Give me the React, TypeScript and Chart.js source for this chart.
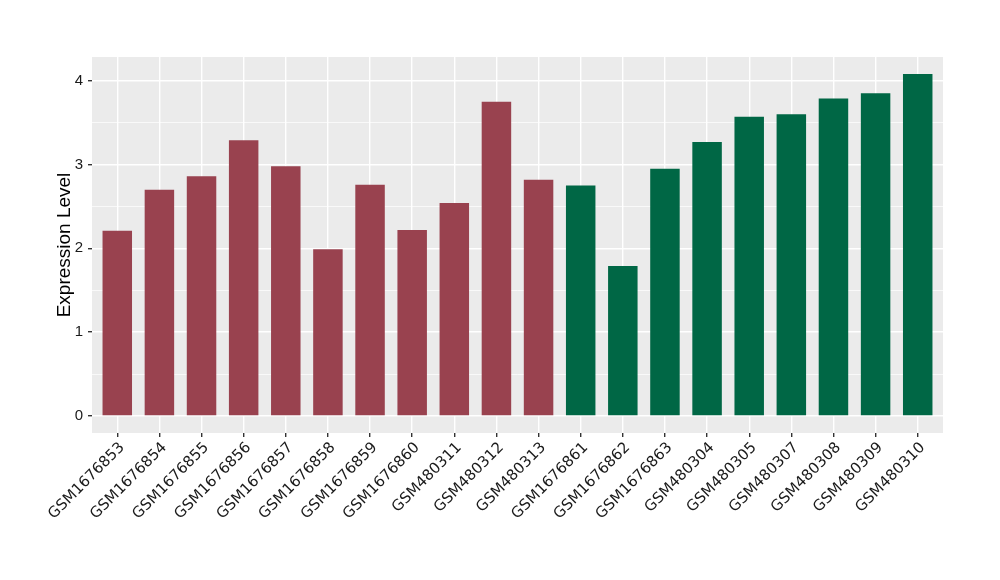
import React, { useEffect, useRef } from "react";
import { Chart, registerables } from "chart.js";

Chart.register(...registerables);

const samples = [
  "GSM1676853", "GSM1676854", "GSM1676855", "GSM1676856", "GSM1676857",
  "GSM1676858", "GSM1676859", "GSM1676860", "GSM480311", "GSM480312",
  "GSM480313", "GSM1676861", "GSM1676862", "GSM1676863", "GSM480304",
  "GSM480305", "GSM480307", "GSM480308", "GSM480309", "GSM480310",
];

const expression = [
  2.21, 2.70, 2.86, 3.29, 2.98, 1.99, 2.76, 2.22, 2.54, 3.75,
  2.82, 2.75, 1.79, 2.95, 3.27, 3.57, 3.60, 3.79, 3.85, 4.08,
];

const groups = [
  "A", "A", "A", "A", "A", "A", "A", "A", "A", "A",
  "A", "B", "B", "B", "B", "B", "B", "B", "B", "B",
];

const groupColors: Record<string, string> = { A: "#99424F", B: "#006745" };

const yMajorTicks = [0, 1, 2, 3, 4];
const yMinorTicks = [0.5, 1.5, 2.5, 3.5];

const panelBg = {
  id: "panelBg",
  beforeDraw(chart: any) {
    const { ctx, chartArea } = chart;
    ctx.save();
    ctx.fillStyle = "#EBEBEB";
    ctx.fillRect(chartArea.left, chartArea.top, chartArea.right - chartArea.left, chartArea.bottom - chartArea.top);
    ctx.restore();
  },
};

export default function App() {
  const ref = useRef<HTMLCanvasElement>(null);
  useEffect(() => {
    const maxV = Math.max(...expression);
    const pad = maxV * 0.05;
    const chart = new Chart(ref.current!, {
      type: "bar",
      data: {
        datasets: [
          {
            data: expression.map((v, i) => ({ x: i, y: v })),
            backgroundColor: groups.map((g) => groupColors[g]),
            barPercentage: 0.7,
            categoryPercentage: 1,
          },
        ],
      },
      options: {
        animation: false,
        responsive: false,
        maintainAspectRatio: false,
        layout: { padding: { left: 0, top: 57, right: 57, bottom: 0 } },
        plugins: { legend: { display: false }, tooltip: { enabled: false } },
        scales: {
          x: {
            type: "linear",
            min: -0.6,
            max: samples.length - 0.4,
            offset: false,
            afterBuildTicks: (scale: any) => {
              scale.ticks = samples.map((_, i) => ({ value: i }));
            },
            afterFit: (scale: any) => {
              scale.height = 147;
            },
            grid: {
              offset: false,
              color: "#FFFFFF",
              lineWidth: 1.4,
              tickLength: 4,
              tickColor: "#333333",
            },
            border: { display: false },
            ticks: {
              autoSkip: false,
              minRotation: 45,
              maxRotation: 45,
              padding: 2,
              labelOffset: 5,
              color: "#1A1A1A",
              font: { family: "DejaVu Sans", size: 15 },
              callback: (v: any) => samples[v as number] ?? "",
            },
          },
          y: {
            type: "linear",
            min: -pad,
            max: maxV + pad,
            afterBuildTicks: (scale: any) => {
              scale.ticks = [...yMajorTicks, ...yMinorTicks]
                .sort((a, b) => a - b)
                .map((v) => ({ value: v }));
            },
            afterFit: (scale: any) => {
              scale.width = 92;
            },
            grid: {
              color: "#FFFFFF",
              lineWidth: (c: any) => (yMajorTicks.includes(c.tick?.value) ? 1.4 : 0.7),
              tickLength: 4,
              tickColor: (c: any) => (yMajorTicks.includes(c.tick?.value) ? "#333333" : "rgba(0,0,0,0)"),
            },
            border: { display: false },
            ticks: {
              padding: 5,
              color: "#1A1A1A",
              font: { family: "Liberation Sans", size: 15 },
              callback: (v: any) => (yMajorTicks.includes(v as number) ? String(v) : ""),
            },
            title: {
              display: true,
              text: "Expression Level",
              color: "#000000",
              font: { family: "Liberation Sans", size: 19 },
              padding: { top: 53, bottom: 0 },
            },
          },
        },
      },
      plugins: [panelBg],
    });
    return () => chart.destroy();
  }, []);
  return (
    <div style={{ position: "absolute", left: 0, top: 0, width: 1000, height: 580 }}>
      <canvas ref={ref} width={1000} height={580} />
    </div>
  );
}
